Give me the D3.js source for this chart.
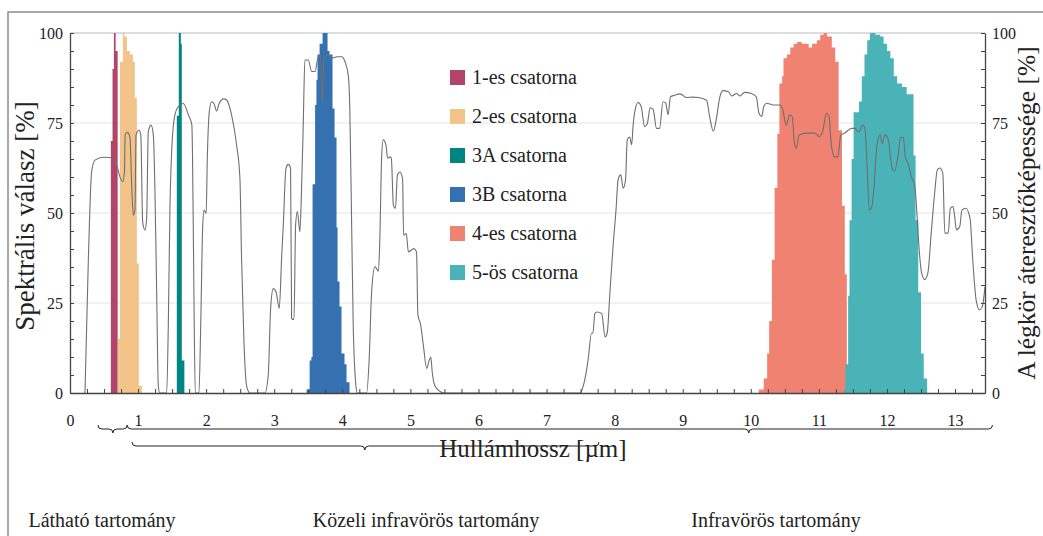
<!DOCTYPE html>
<html>
<head>
<meta charset="utf-8">
<script src="https://cdn.jsdelivr.net/npm/d3@7"></script>
<style>
  body { margin: 0; background: #fff; }
  svg text { font-family: "Liberation Serif", "Times New Roman", serif; fill: #222; }
</style>
</head>
<body>
<svg width="1043" height="536"></svg>
<script>
// channel names + colours
const channelNames = ["1-es csatorna", "2-es csatorna", "3A csatorna", "3B csatorna", "4-es csatorna", "5-ös csatorna"];
const channelColors = ["#b04469", "#f2c48a", "#008585", "#3571b0", "#ef8271", "#4ab3b8"];

// spectral response, [wavelength µm, response %] (step start, last one closes the band)
const ch1 = [[0.60, 70], [0.625, 90], [0.645, 100], [0.67, 95], [0.70, 0]];
const ch2 = [[0.704, 15], [0.733, 92], [0.777, 100], [0.80, 99], [0.836, 95], [0.88, 94], [0.924, 92], [0.953, 82], [0.982, 36], [1.012, 2], [1.056, 0]];
const ch3A = [[1.569, 77], [1.598, 100], [1.628, 97], [1.642, 9], [1.68, 0]];
const ch3B = [[3.475, 1], [3.52, 9], [3.545, 10], [3.563, 58], [3.60, 80], [3.62, 87], [3.636, 94], [3.666, 97], [3.71, 100], [3.754, 100], [3.783, 95], [3.812, 94], [3.856, 79], [3.886, 71], [3.915, 46], [3.93, 31], [3.959, 24], [3.988, 11], [4.032, 8], [4.062, 3], [4.106, 0]];
const ch4 = [[10.117, 1], [10.19, 4], [10.24, 11], [10.27, 20], [10.31, 37], [10.35, 57], [10.39, 72], [10.42, 86], [10.46, 88], [10.48, 93], [10.53, 94], [10.58, 96], [10.63, 97], [10.68, 97.5], [10.75, 97], [10.85, 96], [10.90, 97], [10.97, 98], [11.02, 99.5], [11.07, 100], [11.12, 99], [11.19, 96], [11.24, 92], [11.29, 73], [11.34, 52], [11.38, 33], [11.41, 0]];
const ch5 = [[11.364, 1], [11.39, 8], [11.43, 27], [11.45, 48], [11.48, 65], [11.51, 78], [11.56, 78], [11.59, 81], [11.63, 88], [11.67, 94], [11.71, 98], [11.75, 100], [11.83, 99.5], [11.90, 99], [11.95, 97], [12.00, 95], [12.05, 93], [12.10, 88], [12.15, 86], [12.22, 85], [12.29, 83], [12.34, 83], [12.39, 66], [12.42, 48], [12.46, 28], [12.50, 11], [12.54, 4], [12.59, 0]];
const channels = [ch1, ch2, ch3A, ch3B, ch4, ch5];

// atmospheric transmission, [wavelength µm, %]
const atmosphere = [
  [0.22, 0], [0.27, 37.4], [0.318, 61.5], [0.367, 64.7], [0.49, 65.5], [0.587, 65.4], [0.685, 63.3], [0.734, 60], [0.773, 58.7], [0.80, 61.5], [0.81, 71.7], [0.842, 72.4], [0.88, 71], [0.906, 57.8], [0.93, 49.4], [0.954, 51], [0.97, 71.7], [1.013, 73], [1.04, 71.7], [1.067, 47.6], [1.10, 45.3], [1.126, 48.5], [1.15, 72.6], [1.19, 74.4], [1.224, 71.7], [1.248, 55.9], [1.273, 28], [1.297, 2], [1.32, 0],
  [1.42, 0], [1.444, 18.9], [1.468, 51.3], [1.493, 67], [1.54, 77.2], [1.59, 79.5], [1.664, 80.4], [1.74, 77.2], [1.79, 74.4], [1.80, 65.2], [1.82, 28], [1.84, 0],
  [1.894, 0], [1.92, 18.9], [1.95, 46.7], [1.97, 50.8], [2.00, 49.9], [2.017, 65.2], [2.046, 78.1], [2.08, 80.9], [2.115, 80.4], [2.154, 78.3], [2.19, 80.4], [2.26, 81.7], [2.30, 81.4], [2.374, 77.2], [2.447, 68.9], [2.496, 59.6], [2.52, 37.4], [2.555, 14.3], [2.594, 2], [2.643, 0],
  [2.863, 0], [2.912, 5], [2.947, 23.5], [2.985, 29], [3.025, 28.2], [3.074, 23.5], [3.108, 37.4], [3.133, 46.7], [3.172, 62.4], [3.206, 63.5], [3.24, 62.4], [3.255, 20.7], [3.29, 20.4], [3.314, 46.7], [3.34, 50.4], [3.377, 44.8], [3.40, 56], [3.426, 74.4], [3.45, 92.5], [3.50, 92.5], [3.55, 89.3], [3.60, 89.3], [3.646, 93.4], [3.68, 93.4], [3.705, 80.5], [3.73, 93.4], [3.793, 93.9], [3.866, 93.1], [3.925, 93.4], [3.99, 93.4], [4.04, 92], [4.087, 88.3], [4.11, 79], [4.137, 46.7], [4.16, 18.9], [4.20, 2], [4.22, 0],
  [4.356, 0], [4.395, 9.6], [4.43, 28], [4.48, 35.1], [4.53, 33.8], [4.55, 42], [4.577, 65.2], [4.60, 70.3], [4.64, 69], [4.665, 65.2], [4.70, 65.6], [4.72, 65.2], [4.75, 52.2], [4.78, 51.3], [4.81, 60.6], [4.846, 61.4], [4.885, 59.6], [4.90, 43.9], [4.94, 44.3], [4.97, 39.2], [5.05, 40.1], [5.09, 39.2], [5.11, 21.7], [5.15, 19], [5.19, 13.3], [5.24, 6.8], [5.27, 8.7], [5.30, 10], [5.32, 5.9], [5.36, 2], [5.43, 0.5], [5.50, 0],
  [7.49, 0], [7.56, 3.6], [7.61, 9.2], [7.66, 16.6], [7.68, 16.6], [7.71, 22.1], [7.74, 22.5], [7.81, 22.1], [7.86, 15.6], [7.89, 16.6], [7.93, 27.7], [7.98, 41.6], [8.02, 50.8], [8.05, 59.2], [8.09, 60.6], [8.125, 56.9], [8.16, 59.2], [8.185, 70.3], [8.22, 71.1], [8.25, 69], [8.27, 74], [8.30, 78.6], [8.345, 80.7], [8.39, 79.6], [8.44, 74], [8.48, 74.8], [8.52, 79.2], [8.565, 78.8], [8.615, 73.5], [8.66, 73.5], [8.71, 80.9], [8.75, 80.5], [8.785, 77.3], [8.82, 82.3], [8.88, 82.7], [8.96, 83.1], [9.055, 82.1], [9.15, 82.2], [9.23, 82.1], [9.35, 81.3], [9.40, 76.3], [9.45, 72.7], [9.495, 76.3], [9.545, 82.2], [9.59, 84], [9.67, 83.7], [9.72, 82.5], [9.79, 83.2], [9.84, 82.5], [9.91, 83.5], [10.01, 83.2], [10.08, 82.3], [10.12, 77.7], [10.16, 76.8], [10.19, 79.6], [10.23, 80.5], [10.33, 80], [10.43, 80], [10.47, 78.6], [10.52, 74.4], [10.57, 77.2], [10.61, 76.7], [10.64, 69.4], [10.67, 68], [10.71, 71.7], [10.82, 72.2], [10.94, 72.2], [11.01, 71.2], [11.06, 73], [11.11, 77.7], [11.15, 76.8], [11.18, 69.4], [11.23, 65.6], [11.28, 65.6], [11.32, 71.6], [11.38, 72.2], [11.48, 73.5], [11.53, 73.5], [11.58, 72.5], [11.65, 74.4], [11.68, 73], [11.71, 62], [11.74, 50.8], [11.77, 51.3], [11.81, 57], [11.85, 68.4], [11.90, 71.7], [11.93, 69.3], [11.97, 71.7], [12.02, 70.3], [12.07, 62.9], [12.11, 61.6], [12.16, 65.5], [12.20, 71], [12.24, 71], [12.27, 65.5], [12.31, 63.7], [12.36, 60], [12.41, 57.4], [12.44, 49.9], [12.47, 40.7], [12.51, 33.2], [12.555, 31.5], [12.60, 33.2], [12.65, 44.4], [12.70, 55.5], [12.74, 62], [12.775, 62.5], [12.82, 61.1], [12.85, 44.4], [12.90, 44.4], [12.93, 51.3], [12.97, 51.8], [12.995, 49], [13.02, 45.3], [13.07, 46.3], [13.10, 50.8], [13.16, 51.3], [13.22, 48.5], [13.26, 37], [13.31, 25.8], [13.36, 23.1], [13.40, 24], [13.44, 29.5]
];

// spectral regions under the axis, [from µm, to µm, brace tip µm]
const regionNames = ["Látható tartomány", "Közeli infravörös tartomány", "Infravörös tartomány"];
const regionSpans = [[0.41, 0.84, 0.63], [0.91, 7.77, 4.33], [0.84, 13.55, 9.97]];
const regionLabelAt = [0.47, 5.23, 10.37];

const xTicks = d3.range(0, 13.5, 0.25);
const yTicks = d3.range(0, 101, 5);

const serif = "'Liberation Serif', 'Times New Roman', serif";
const svg = d3.select("svg");
const margin = {top: 33, left: 70, right: 58, bottom: 143};
const width = 1043 - margin.left - margin.right, height = 536 - margin.top - margin.bottom;

const x = d3.scaleLinear().domain([0, 13.44]).range([0, width]);
const y = d3.scaleLinear().domain([0, 100]).range([height, 0]);

// outer frame
svg.append("rect").attr("x", 8).attr("y", 12).attr("width", 1100).attr("height", 600)
  .attr("fill", "none").attr("stroke", "#8c8c8c").attr("stroke-width", 1.5);

const g = svg.append("g").attr("transform", "translate(" + margin.left + "," + margin.top + ")");

// grid
g.selectAll(".grid").data([25, 50, 75]).enter().append("line")
  .attr("x1", 0).attr("x2", width).attr("y1", d => y(d)).attr("y2", d => y(d))
  .attr("stroke", "#e4e4e4").attr("stroke-width", 1);
g.append("line").attr("x1", 0).attr("x2", width).attr("y1", 0).attr("y2", 0)
  .attr("stroke", "#b4bac2").attr("stroke-width", 1.2);

// channel bands
const band = d3.area().curve(d3.curveStepAfter).x(d => x(d[0])).y0(height).y1(d => y(d[1]));
g.selectAll(".band").data(channels).enter().append("path")
  .attr("d", band).attr("fill", (d, i) => channelColors[i]);

// atmosphere line
g.append("path").datum(atmosphere)
  .attr("d", d3.line().curve(d3.curveMonotoneX).x(d => x(d[0])).y(d => y(d[1])))
  .attr("fill", "none").attr("stroke", "#6f6f6f").attr("stroke-width", 1.1);

// axes
function styleAxis(sel) {
  sel.attr("font-family", serif).attr("font-size", 16);
  sel.select(".domain").attr("stroke", "#444").attr("stroke-width", 1.3);
  sel.selectAll(".tick line").attr("stroke", "#444");
  sel.selectAll(".tick text").style("font-size", "16px").style("font-family", serif).attr("fill", "#333");
}
g.append("g").call(d3.axisLeft(y).tickValues(yTicks).tickSize(-4).tickSizeOuter(0).tickPadding(7)
  .tickFormat(d => d % 25 === 0 ? d : "")).call(styleAxis);
g.append("g").attr("transform", "translate(" + width + ",0)")
  .call(d3.axisRight(y).tickValues(yTicks).tickSize(-4).tickSizeOuter(0).tickPadding(7)
  .tickFormat(d => d % 25 === 0 ? d : "")).call(styleAxis);
g.append("g").attr("transform", "translate(0," + height + ")")
  .call(d3.axisBottom(x).tickValues(xTicks).tickSize(-4).tickSizeOuter(0).tickPadding(22)
  .tickFormat(d => Number.isInteger(d) ? d : "")).call(styleAxis);

// axis titles
g.append("text").attr("x", x(6.8)).attr("y", height + 64).attr("text-anchor", "middle")
  .style("font-size", "25px").text("Hullámhossz [µm]");
g.append("text").attr("transform", "translate(-36,183) rotate(-90)")
  .attr("text-anchor", "middle").style("font-size", "27px").text("Spektrális válasz [%]");
g.append("text").attr("transform", "translate(" + (width + 50) + ",180) rotate(-90)")
  .attr("text-anchor", "middle").style("font-size", "25.5px").text("A légkör áteresztőképessége [%]");

// legend
const legend = g.selectAll(".legend").data(channelNames).enter().append("g")
  .attr("transform", (d, i) => "translate(380," + (37 + i * 39) + ")");
legend.append("rect").attr("width", 15).attr("height", 15).attr("fill", (d, i) => channelColors[i]);
legend.append("text").attr("x", 22).attr("y", 14).style("font-size", "20px").text(d => d);

// braces for the spectral regions
function brace(x1, x2, xt, yb, h) {
  return "M" + x1 + "," + (yb - h) + " Q" + x1 + "," + yb + " " + (x1 + h) + "," + yb
    + " L" + (xt - h) + "," + yb + " Q" + xt + "," + yb + " " + xt + "," + (yb + h)
    + " Q" + xt + "," + yb + " " + (xt + h) + "," + yb
    + " L" + (x2 - h) + "," + yb + " Q" + x2 + "," + yb + " " + x2 + "," + (yb - h);
}
const braceY = [height + 36, height + 53, height + 36];
g.selectAll(".brace").data(regionSpans).enter().append("path")
  .attr("d", (d, i) => brace(x(d[0]), x(d[1]), x(d[2]), braceY[i], 4))
  .attr("fill", "none").attr("stroke", "#222").attr("stroke-width", 1);
g.selectAll(".region").data(regionNames).enter().append("text")
  .attr("x", (d, i) => x(regionLabelAt[i])).attr("y", height + 134)
  .attr("text-anchor", "middle").style("font-size", "20px").text(d => d);
</script>
</body>
</html>
